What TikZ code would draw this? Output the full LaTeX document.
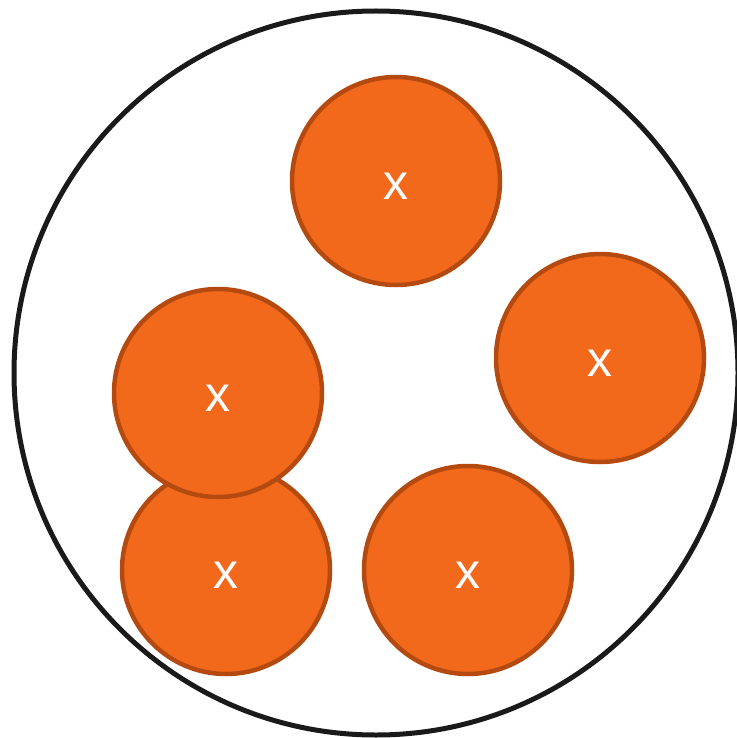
\documentclass[tikz,border=0pt]{standalone}
\usepackage{fontspec}
\setmainfont{Liberation Sans}
\definecolor{orfill}{HTML}{F3691C}
\definecolor{orline}{HTML}{B44A10}
\definecolor{outline}{HTML}{1A1A1A}
\begin{document}
\begin{tikzpicture}[x=1pt,y=-1pt,
  ball/.style={circle,draw=orline,fill=orfill,line width=4.5pt,minimum size=208pt,inner sep=0pt},
  lbl/.style={text=white,font=\fontsize{50}{50}\selectfont}]
\useasboundingbox (0,0) rectangle (736,738);
\draw[outline,line width=5pt] (376,373) circle (362);
\node[ball] (b1) at (396,181) {};
\node[ball] (b2) at (600,358) {};
\node[ball] (b4) at (226,570) {};
\node[ball] (b3) at (218,393) {};
\node[ball] (b5) at (468,570) {};
\node[lbl] (t1) at (396,186) {x};
\node[lbl] (t2) at (600,363) {x};
\node[lbl] (t3) at (218,398) {x};
\node[lbl] (t4) at (226,575) {x};
\node[lbl] (t5) at (468,575) {x};
\end{tikzpicture}
\end{document}
